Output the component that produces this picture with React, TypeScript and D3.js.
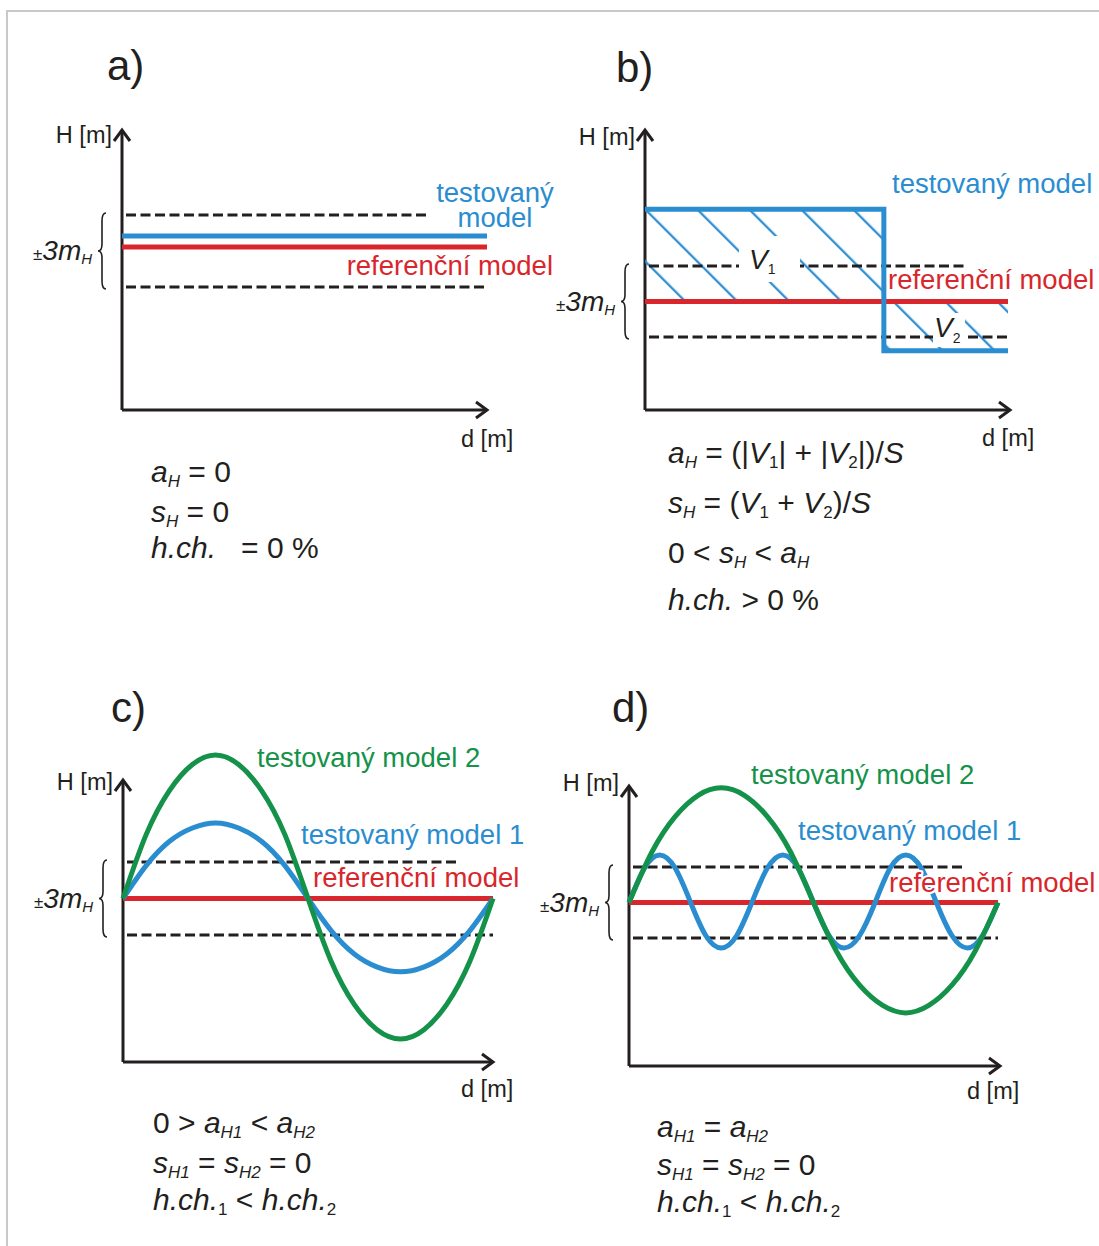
import * as d3 from "d3";

// Heights are in units of the ±3m_H half-band (dashed lines at -1 / +1),
// distance d runs 0..1 along each profile.
const panelTitles = ["a)", "b)", "c)", "d)"];
const toleranceBand = [-1, 1];
const toleranceUpperEnd = [0.84, 0.88, 0.91, 0.91]; // upper dashed line stops short

const referenceA = [{ d: 0, h: 0.11 }, { d: 1, h: 0.11 }];
const testedA = [{ d: 0, h: 0.42 }, { d: 1, h: 0.42 }];

const referenceB = [{ d: 0, h: 0 }, { d: 1, h: 0 }];
const testedB = [{ d: 0, h: 2.6 }, { d: 0.658, h: -1.39 }, { d: 1, h: -1.39 }];

const profile16 = [
  0, 0.0625, 0.125, 0.1875, 0.25, 0.3125, 0.375, 0.4375, 0.5,
  0.5625, 0.625, 0.6875, 0.75, 0.8125, 0.875, 0.9375, 1,
];
const tested1C = [0, 0.9, 1.56, 1.93, 2.07, 1.93, 1.56, 0.9, 0, -0.88, -1.52, -1.88, -2.01, -1.88, -1.52, -0.88, 0];
const tested2C = [0, 1.75, 2.95, 3.67, 3.93, 3.67, 2.95, 1.75, 0, -1.72, -2.9, -3.6, -3.85, -3.6, -2.9, -1.72, 0];

const profile24 = [
  0, 0.042, 0.083, 0.125, 0.167, 0.208, 0.25, 0.292, 0.333, 0.375, 0.417, 0.458,
  0.5, 0.542, 0.583, 0.625, 0.667, 0.708, 0.75, 0.792, 0.833, 0.875, 0.917, 0.958, 1,
];
const tested1D = [
  0, 0.97, 1.34, 0.97, 0, -0.93, -1.28, -0.93,
  0, 0.97, 1.34, 0.97, 0, -0.93, -1.28, -0.93,
  0, 0.97, 1.34, 0.97, 0, -0.93, -1.28, -0.93, 0,
];
const tested2D = [0, 1.43, 2.42, 3.02, 3.23, 3.02, 2.42, 1.43, 0, -1.38, -2.33, -2.9, -3.11, -2.9, -2.33, -1.38, 0];

const axisLabels = ["H [m]", "d [m]"];
const modelLabels = ["testovaný model", "referenční model", "testovaný model 1", "testovaný model 2"];

const it = (t) => ({ t, it: true });
const sub = (t, italic = true) => ({ t, it: italic, sub: true });
const txt = (t) => ({ t });

const formulasA = [
  [it("a"), sub("H"), txt(" = 0")],
  [it("s"), sub("H"), txt(" = 0")],
  [it("h.ch."), txt("   = 0 %")],
];
const formulasB = [
  [it("a"), sub("H"), txt(" = (|"), it("V"), sub("1", false), txt("| + |"), it("V"), sub("2", false), txt("|)/"), it("S")],
  [it("s"), sub("H"), txt(" = ("), it("V"), sub("1", false), txt(" + "), it("V"), sub("2", false), txt(")/"), it("S")],
  [txt("0 < "), it("s"), sub("H"), txt(" < "), it("a"), sub("H")],
  [it("h.ch."), txt(" > 0 %")],
];
const formulasC = [
  [txt("0 > "), it("a"), sub("H1"), txt(" < "), it("a"), sub("H2")],
  [it("s"), sub("H1"), txt(" = "), it("s"), sub("H2"), txt(" = 0")],
  [it("h.ch."), sub("1", false), txt(" < "), it("h.ch."), sub("2", false)],
];
const formulasD = [
  [it("a"), sub("H1"), txt(" = "), it("a"), sub("H2")],
  [it("s"), sub("H1"), txt(" = "), it("s"), sub("H2"), txt(" = 0")],
  [it("h.ch."), sub("1", false), txt(" < "), it("h.ch."), sub("2", false)],
];
const formulaSets = [formulasA, formulasB, formulasC, formulasD];

// ---- layout ----
const FONT = "'Liberation Sans', Arial, Helvetica, sans-serif";
const BLUE = "#2a8dcf";
const RED = "#d8262c";
const GREEN = "#15924a";
const INK = "#231f20";

const layouts = [
  { axisX: 122, axisTop: 130, axisY: 410, axisRight: 487, lineEnd: 487, bandTop: 215, bandBottom: 287,
    titleX: 107, titleY: 80, hLabelY: 143, dLabelX: 461, dLabelY: 447, fx: 151, fy: [482, 522, 558] },
  { axisX: 645, axisTop: 130, axisY: 410, axisRight: 1010, lineEnd: 1008, bandTop: 266, bandBottom: 337,
    titleX: 616, titleY: 82, hLabelY: 145, dLabelX: 982, dLabelY: 446, fx: 668, fy: [463, 513, 563, 610] },
  { axisX: 123, axisTop: 780, axisY: 1062, axisRight: 493, lineEnd: 493, bandTop: 862, bandBottom: 935,
    titleX: 111, titleY: 722, hLabelY: 790, dLabelX: 461, dLabelY: 1097, fx: 153, fy: [1133, 1173, 1210] },
  { axisX: 629, axisTop: 786, axisY: 1066, axisRight: 1000, lineEnd: 998, bandTop: 867, bandBottom: 938,
    titleX: 612, titleY: 722, hLabelY: 791, dLabelX: 967, dLabelY: 1099, fx: 657, fy: [1137, 1175, 1212] },
];

function scalesFor(lay) {
  const x = d3.scaleLinear().domain([0, 1]).range([lay.axisX, lay.lineEnd]);
  const y = d3.scaleLinear().domain(toleranceBand).range([lay.bandBottom, lay.bandTop]);
  return { x, y };
}

function Formula({ x, y, segs, size = 30 }) {
  let shifted = false;
  return (
    <text x={x} y={y} fontSize={size} fill={INK} style={{ whiteSpace: "pre" }}>
      {segs.map((s, i) => {
        let dy = 0;
        if (s.sub && !shifted) { dy = 5; shifted = true; }
        else if (!s.sub && shifted) { dy = -5; shifted = false; }
        return (
          <tspan key={i} dy={dy || undefined} fontStyle={s.it ? "italic" : "normal"}
            fontSize={s.sub ? Math.round(size * 0.55) : size}>
            {s.t}
          </tspan>
        );
      })}
    </text>
  );
}

function Frame({ lay, idx, under = null, children }) {
  const { x, y } = scalesFor(lay);
  const top = y(toleranceBand[1]);
  const bot = y(toleranceBand[0]);
  const mid = (top + bot) / 2;
  const xt = lay.axisX - 24, xb = xt + 4, xe = xt + 8;
  const brace = `M${xe},${top - 2} Q${xb},${top - 2} ${xb},${top + 6} L${xb},${mid - 7} Q${xb},${mid} ${xt},${mid}` +
    ` Q${xb},${mid} ${xb},${mid + 7} L${xb},${bot - 6} Q${xb},${bot + 2} ${xe},${bot + 2}`;
  return (
    <g>
      <text x={lay.titleX} y={lay.titleY} fontSize={42} fill={INK}>{panelTitles[idx]}</text>
      <text x={lay.axisX - 10} y={lay.hLabelY} fontSize={23.5} textAnchor="end" fill={INK}>{axisLabels[0]}</text>
      <text x={lay.dLabelX} y={lay.dLabelY} fontSize={23.5} fill={INK}>{axisLabels[1]}</text>
      <g stroke={INK} strokeWidth={3} fill="none">
        <line x1={lay.axisX} y1={lay.axisTop + 1} x2={lay.axisX} y2={lay.axisY} />
        <line x1={lay.axisX} y1={lay.axisY} x2={lay.axisRight - 1} y2={lay.axisY} />
        <polyline points={`${lay.axisX - 8},${lay.axisTop + 11} ${lay.axisX},${lay.axisTop} ${lay.axisX + 8},${lay.axisTop + 11}`} />
        <polyline points={`${lay.axisRight - 11},${lay.axisY - 8} ${lay.axisRight},${lay.axisY} ${lay.axisRight - 11},${lay.axisY + 8}`} />
      </g>
      <path d={brace} fill="none" stroke={INK} strokeWidth={1.6} />
      <text x={lay.axisX - 89} y={mid + 9} fill={INK}>
        <tspan fontSize={17}>±</tspan>
        <tspan fontSize={28} fontStyle="italic">3m</tspan>
        <tspan fontSize={15} fontStyle="italic" dy={4}>H</tspan>
      </text>
      {formulaSets[idx].map((segs, i) => (
        <Formula key={i} x={lay.fx} y={lay.fy[i]} segs={segs} />
      ))}
      {under}
      <g stroke={INK} strokeWidth={3} strokeDasharray="10 4.5">
        <line x1={lay.axisX + 4} x2={x(toleranceUpperEnd[idx])} y1={top} y2={top} />
        <line x1={lay.axisX + 4} x2={x(1)} y1={bot} y2={bot} />
      </g>
      {children}
    </g>
  );
}

const toPts = (ds, hs) => ds.map((d, i) => ({ d, h: hs[i] }));

export default function App() {
  const W = 1099, H = 1246;
  const [la, lb, lc, ld] = layouts;

  const sa = scalesFor(la);
  const lineA = d3.line().x((p) => sa.x(p.d)).y((p) => sa.y(p.h));

  const sb = scalesFor(lb);
  const stepB = d3.line().x((p) => sb.x(p.d)).y((p) => sb.y(p.h)).curve(d3.curveStepAfter);
  const areaB = d3.area().x((p) => sb.x(p.d)).y0(sb.y(referenceB[0].h)).y1((p) => sb.y(p.h)).curve(d3.curveStepAfter);

  const sc = scalesFor(lc);
  const curveC = d3.line().x((p) => sc.x(p.d)).y((p) => sc.y(p.h)).curve(d3.curveNatural);

  const sd = scalesFor(ld);
  const curveD = d3.line().x((p) => sd.x(p.d)).y((p) => sd.y(p.h)).curve(d3.curveNatural);

  const labelStyle = { fontSize: 27.5 };
  const [tWord, mWord] = modelLabels[0].split(" ");

  return (
    <svg width={W} height={H} style={{ position: "absolute", left: 0, top: 0 }} fontFamily={FONT}>
      <defs>
        <pattern id="hatchB" patternUnits="userSpaceOnUse" width={36.77} height={10} patternTransform="rotate(-45)">
          <line x1={14.1} x2={14.1} y1={-1} y2={11} stroke={BLUE} strokeWidth={2.2} />
        </pattern>
      </defs>
      <rect width={W} height={H} fill="#fff" />
      <line x1={6} y1={11} x2={W} y2={11} stroke="#c8c8c8" strokeWidth={2} />
      <line x1={7} y1={10} x2={7} y2={H} stroke="#c8c8c8" strokeWidth={2} />

      {/* a) */}
      <Frame lay={la} idx={0}>
        <path d={lineA(testedA)} stroke={BLUE} strokeWidth={5} fill="none" />
        <path d={lineA(referenceA)} stroke={RED} strokeWidth={5} fill="none" />
        <text textAnchor="middle" fill={BLUE} {...labelStyle}>
          <tspan x={495} y={202}>{tWord}</tspan>
          <tspan x={495} y={227}>{mWord}</tspan>
        </text>
        <text x={553} y={275} textAnchor="end" fill={RED} {...labelStyle}>{modelLabels[1]}</text>
      </Frame>

      {/* b) */}
      <Frame lay={lb} idx={1} under={<path d={areaB(testedB)} fill="url(#hatchB)" />}>
        <rect x={739} y={236} width={61} height={46} fill="#fff" />
        <rect x={933} y={313} width={32} height={34} fill="#fff" />
        <path d={stepB(referenceB)} stroke={RED} strokeWidth={5} fill="none" />
        <path d={stepB(testedB)} stroke={BLUE} strokeWidth={5} fill="none" />
        <text x={749} y={269} fill={INK}>
          <tspan fontSize={28} fontStyle="italic">V</tspan>
          <tspan fontSize={14} dy={5}>1</tspan>
        </text>
        <text x={934} y={337} fill={INK}>
          <tspan fontSize={28} fontStyle="italic">V</tspan>
          <tspan fontSize={14} dy={6}>2</tspan>
        </text>
        <text x={892} y={193} fill={BLUE} {...labelStyle}>{modelLabels[0]}</text>
        <text x={888} y={289} fill={RED} {...labelStyle}>{modelLabels[1]}</text>
      </Frame>

      {/* c) */}
      <Frame lay={lc} idx={2}>
        <path d={curveC(toPts([0, 1], [0, 0]))} stroke={RED} strokeWidth={5} fill="none" />
        <path d={curveC(toPts(profile16, tested1C))} stroke={BLUE} strokeWidth={5} fill="none" />
        <path d={curveC(toPts(profile16, tested2C))} stroke={GREEN} strokeWidth={5} fill="none" />
        <text x={257} y={767} fill={GREEN} {...labelStyle}>{modelLabels[3]}</text>
        <text x={301} y={844} fill={BLUE} {...labelStyle}>{modelLabels[2]}</text>
        <text x={313} y={887} fill={RED} {...labelStyle}>{modelLabels[1]}</text>
      </Frame>

      {/* d) */}
      <Frame lay={ld} idx={3}>
        <path d={curveD(toPts([0, 1], [0, 0]))} stroke={RED} strokeWidth={5} fill="none" />
        <path d={curveD(toPts(profile24, tested1D))} stroke={BLUE} strokeWidth={5} fill="none" />
        <path d={curveD(toPts(profile16, tested2D))} stroke={GREEN} strokeWidth={5} fill="none" />
        <text x={751} y={784} fill={GREEN} {...labelStyle}>{modelLabels[3]}</text>
        <text x={798} y={840} fill={BLUE} {...labelStyle}>{modelLabels[2]}</text>
        <text x={889} y={892} fill={RED} stroke="#fff" strokeWidth={4} paintOrder="stroke"
          strokeLinejoin="round" {...labelStyle}>{modelLabels[1]}</text>
      </Frame>
    </svg>
  );
}
